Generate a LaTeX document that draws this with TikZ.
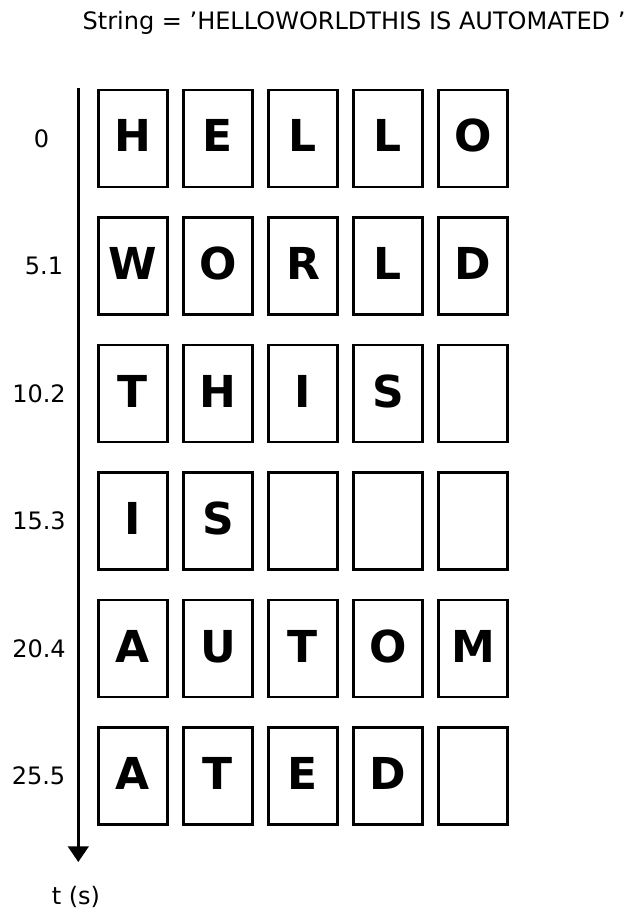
\documentclass[tikz,border=0pt]{standalone}
\usepackage{fontspec}
\setmainfont{DejaVu Sans}
\usetikzlibrary{arrows.meta}

\begin{document}
\begin{tikzpicture}[x=1pt,y=-1pt,
    cell/.style={draw,line width=2.8pt,minimum width=69pt,minimum height=97pt,inner sep=0pt,
      text height=32pt,text depth=5pt,font=\fontsize{44}{48}\selectfont\bfseries},
    lbl/.style={inner sep=0pt,font=\fontsize{24}{28}\selectfont}]
      \useasboundingbox (0,0) rectangle (632,909);
      \node[lbl,anchor=base] (title) at (354,30) {String = ’HELLOWORLDTHIS IS AUTOMATED ’};
      % letter boxes, one row per time step
      \foreach \r/\w in {0/{H,E,L,L,O},1/{W,O,R,L,D},2/{T,H,I,S,{}},3/{I,S,{},{},{}},4/{A,U,T,O,M},5/{A,T,E,D,{}}}{
        \foreach \ch [count=\c from 0] in \w
          \node[cell] (cell-\r-\c) at (133+85*\c,138.5+127.5*\r) {\ch};
      }
      % time axis
      \coordinate (axtop) at (78.3,88);
      \coordinate (axend) at (78.3,862);
      \draw[line width=2.5pt,-{Triangle[length=15.6pt,width=20.6pt]}] (axtop) -- (axend);
      \foreach \r/\t/\lx in {0/0/41.5,1/5.1/44,2/10.2/39,3/15.3/39,4/20.4/39,5/25.5/38.5}
        \node[lbl] (tick-\r) at (\lx,138.5+127.5*\r) {\t};
      \node[lbl,anchor=base] (tunit) at (76,904) {t (s)};
    \end{tikzpicture}
\end{document}
